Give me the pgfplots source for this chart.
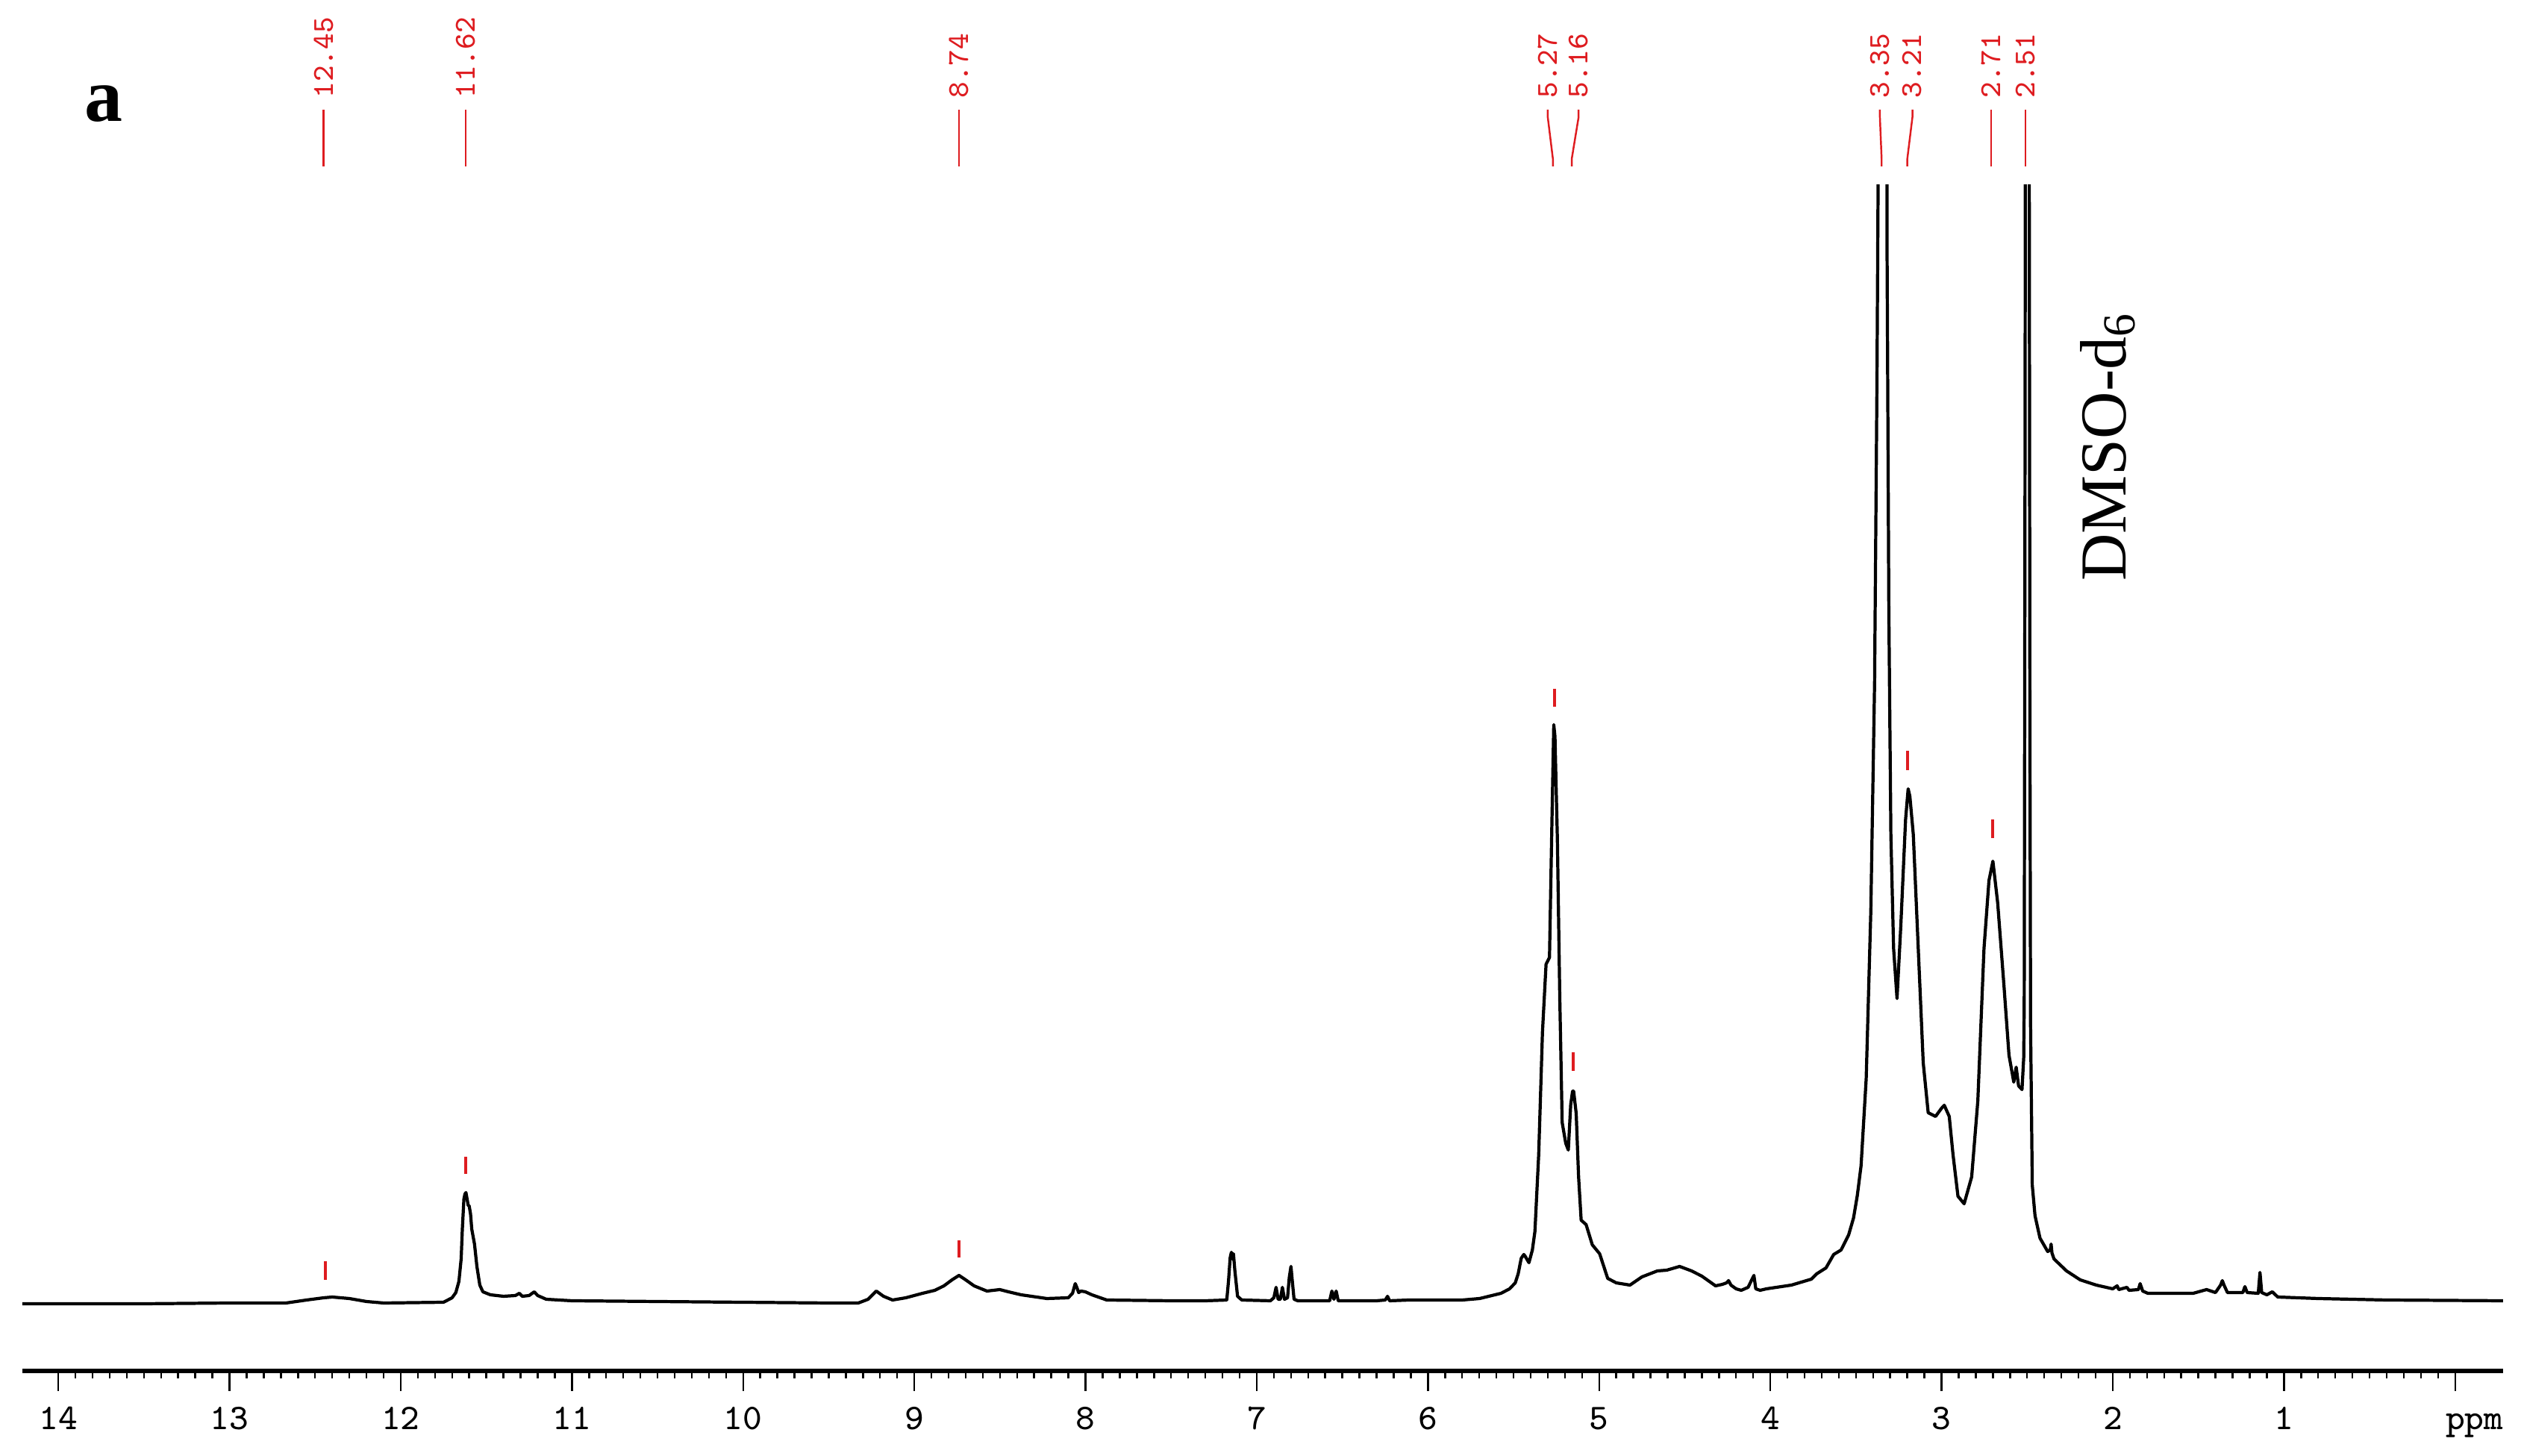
\documentclass[border=0pt]{standalone}
\usepackage{fontspec}
\setmainfont{Liberation Serif}
\usepackage{pgfplots}
\pgfplotsset{compat=1.18}
\definecolor{pkred}{RGB}{222,28,32}
\newcommand{\tickfnt}{\ttfamily\fontsize{6.9}{7}\selectfont}
\newcommand{\lblfnt}{\ttfamily\fontsize{5.8}{6}\selectfont}
% label above a peak: text position, line foot position, text
\newcommand{\pklabel}[3]{%
  \draw[pkred, line width=0.35pt] (axis cs:#1,1600) -- (axis cs:#1,1590)
    -- (axis cs:#2,1534) -- (axis cs:#2,1524);
  \node[pkred, font=\lblfnt, rotate=90, anchor=west, inner sep=0pt]
    at (axis cs:#1,1614) {#3};}

\begin{document}
\begin{tikzpicture}
\begin{axis}[
 name=ax, at={(0,0)}, anchor=south west,
 scale only axis, width=16.62cm, height=7.945cm,
 x dir=reverse, xmin=-0.28, xmax=14.21, ymin=-90, ymax=1499,
 axis x line=bottom, axis y line=none,
 axis line style={-, line width=0.8pt},
 xtick={0,...,14},
 xticklabels={\hspace*{0.26cm}ppm,1,2,3,4,5,6,7,8,9,10,11,12,13,14},
 minor x tick num=9, tick align=outside,
 major tick length=0.135cm, minor tick length=0.05cm,
 tick style={line width=0.35pt, black},
 xticklabel style={font=\tickfnt, anchor=base, yshift=-0.26cm},
 clip mode=individual,
]
% spectrum (ppm, intensity)
\addplot[black, line width=0.6pt, line join=round] table {
14.21 0
13.5 0
13.0 1
12.67 1
12.55 5
12.45 8
12.40 9
12.30 7
12.20 3
12.10 1
11.75 2
11.70 8
11.678 15
11.66 30
11.647 60
11.64 100
11.631 140
11.625 147
11.619 149
11.612 140
11.606 132
11.600 131
11.592 120
11.585 100
11.569 80
11.555 50
11.538 25
11.52 16
11.476 12
11.40 10
11.33 11
11.307 14
11.29 10
11.25 11
11.22 16
11.20 11
11.15 6
11.0 4
10.5 3
10.0 2
9.5 1
9.327 1
9.27 6
9.222 17
9.18 10
9.127 5
9.05 8
8.952 14
8.88 18
8.827 24
8.78 32
8.739 38
8.70 32
8.651 24
8.576 17
8.501 19
8.45 16
8.376 12
8.226 7
8.101 8
8.076 14
8.060 27
8.051 22
8.040 15
8.026 17
8.001 16
7.963 12
7.876 5
7.5 4
7.30 4
7.175 5
7.165 30
7.155 62
7.148 69
7.142 60
7.136 67
7.128 45
7.112 10
7.087 5
6.92 4
6.900 8
6.887 22
6.875 6
6.862 6
6.850 22
6.838 6
6.820 8
6.810 35
6.80 50
6.792 30
6.782 6
6.76 4
6.574 4
6.561 17
6.549 6
6.536 17
6.524 4
6.30 4
6.249 5
6.236 10
6.224 4
6.111 5
6.0 5
5.8 5
5.698 7
5.573 14
5.523 20
5.49 28
5.473 40
5.455 61
5.44 66
5.433 64
5.41 55
5.39 72
5.375 97
5.353 200
5.331 364
5.31 455
5.29 464
5.275 655
5.265 776
5.258 760
5.252 700
5.244 624
5.23 412
5.216 243
5.195 215
5.18 206
5.166 267
5.155 285
5.149 285
5.134 255
5.12 170
5.105 112
5.076 106
5.04 79
4.997 67
4.95 34
4.90 28
4.82 25
4.75 36
4.66 44
4.605 45
4.53 50
4.46 44
4.40 37
4.32 24
4.28 26
4.256 28
4.244 31
4.23 25
4.20 20
4.17 18
4.13 22
4.096 38
4.085 20
4.06 18
4.023 20
3.877 25
3.76 33
3.73 40
3.675 48
3.63 66
3.587 72
3.543 92
3.514 115
3.492 145
3.47 185
3.44 302
3.413 527
3.391 833
3.377 1241
3.37 1520
3.355 2400
3.34 2600
3.325 2300
3.318 1400
3.308 935
3.296 629
3.28 476
3.26 409
3.238 506
3.21 649
3.195 690
3.185 680
3.165 629
3.136 476
3.107 323
3.078 256
3.035 251
3.000 262
2.984 266
2.955 251
2.933 200
2.904 144
2.868 134
2.824 170
2.788 272
2.752 476
2.723 567
2.70 593
2.672 537
2.635 425
2.606 333
2.578 297
2.564 317
2.55 292
2.53 287
2.52 330
2.517 404
2.513 1000
2.510 1600
2.50 2500
2.488 1600
2.484 800
2.48 373
2.47 159
2.454 118
2.425 88
2.38 70
2.365 72
2.36 80
2.355 68
2.343 60
2.27 44
2.19 32
2.096 25
2.00 20
1.974 24
1.965 19
1.917 22
1.905 18
1.85 19
1.84 27
1.825 17
1.795 14
1.53 14
1.452 19
1.40 15
1.37 25
1.36 31
1.35 25
1.33 15
1.24 15
1.228 23
1.215 15
1.15 14
1.140 42
1.130 15
1.10 12
1.068 16
1.036 9
0.8 7
0.4 5
-0.28 4
};

% peak-pick marks
\draw[pkred, line width=0.6pt] (axis cs:12.44,32) -- (axis cs:12.44,57);
\draw[pkred, line width=0.6pt] (axis cs:11.62,174) -- (axis cs:11.62,197);
\draw[pkred, line width=0.6pt] (axis cs:8.74,62) -- (axis cs:8.74,85);
\draw[pkred, line width=0.6pt] (axis cs:5.262,800) -- (axis cs:5.262,824);
\draw[pkred, line width=0.6pt] (axis cs:5.152,312) -- (axis cs:5.152,337);
\draw[pkred, line width=0.6pt] (axis cs:3.197,715) -- (axis cs:3.197,741);
\draw[pkred, line width=0.6pt] (axis cs:2.70,624) -- (axis cs:2.70,649);

% peak labels on top
\pklabel{12.45}{12.45}{12.45}
\pklabel{11.62}{11.62}{11.62}
\pklabel{8.74}{8.74}{8.74}
\pklabel{5.30}{5.27}{5.27}
\pklabel{5.12}{5.16}{5.16}
\pklabel{3.36}{3.35}{3.35}
\pklabel{3.17}{3.20}{3.21}
\pklabel{2.71}{2.71}{2.71}
\pklabel{2.51}{2.51}{2.51}

\node[font=\fontsize{14.5}{15}\selectfont\bfseries, anchor=base west, inner sep=0pt]
  at (axis cs:13.852,1584) {a};
\node[font=\fontsize{12.5}{13}\selectfont, rotate=90, anchor=base west, inner sep=0pt]
  at (axis cs:1.925,967) {DMSO-d\textsubscript{6}};
\end{axis}
\pgfresetboundingbox
\path[use as bounding box] ([shift={(-0.15cm,-0.57cm)}]ax.south west)
  rectangle ([shift={(16.76cm,9.185cm)}]ax.south west);
\end{tikzpicture}
\end{document}
